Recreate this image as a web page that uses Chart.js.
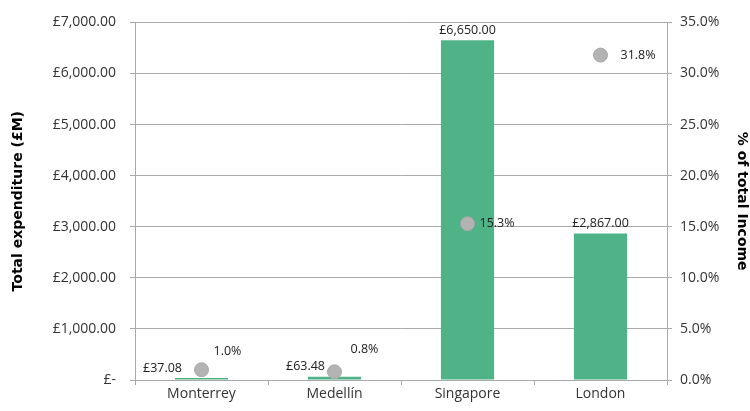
<!DOCTYPE html>
<html>
<head>
<meta charset="utf-8">
<script src="https://cdn.jsdelivr.net/npm/chart.js@4"></script>
<style>
  html, body { margin: 0; padding: 0; background: #fff; }
  #wrap { width: 750px; height: 411px; }
</style>
</head>
<body>
<div id="wrap"><canvas id="barChart"></canvas></div>
<script>
var cities = ["Monterrey", "Medellín", "Singapore", "London"];
var expenditure = [37.08, 63.48, 6650.00, 2867.00];
var incomeShare = [1.0, 0.8, 15.3, 31.8];

// label offsets (px) for each point: [dx, dy]
var barLabelOffset = [[-39, -7], [-29, -8], [0, -8], [0, -8]];
var pctLabelOffset = [[12, -18], [16, -22], [12, 0], [20, 0]];

function money(v) {
    if (v === 0) return "£-";
    return "£" + v.toLocaleString("en-GB", { minimumFractionDigits: 2, maximumFractionDigits: 2 });
}

var labelPlugin = {
    id: "labels",
    afterDatasetsDraw: function (chart) {
        var ctx = chart.ctx;
        ctx.save();
        ctx.font = "12.5px 'Open Sans'";
        ctx.fillStyle = "#222";
        ctx.textBaseline = "bottom";
        var bars = chart.getDatasetMeta(1).data;
        bars.forEach(function (el, i) {
            ctx.textAlign = "center";
            ctx.fillText(money(expenditure[i]), el.x + barLabelOffset[i][0], el.y + barLabelOffset[i][1] + 4);
        });
        var pts = chart.getDatasetMeta(0).data;
        ctx.textBaseline = "middle";
        pts.forEach(function (el, i) {
            ctx.textAlign = "left";
            ctx.fillText(incomeShare[i].toFixed(1) + "%", el.x + pctLabelOffset[i][0], el.y + pctLabelOffset[i][1]);
        });
        ctx.restore();
    }
};

var tickFont = { family: "Open Sans", size: 14 };
var titleFont = { family: "DejaVu Sans", size: 14, weight: "bold" };

var data = {
    labels: cities,
    datasets: [
        {
            type: "scatter",
            label: "% of total Income",
            data: incomeShare.map(function (v, i) { return { x: cities[i], y: v }; }),
            yAxisID: "y1",
            showLine: false,
            backgroundColor: "#b3b3b3",
            borderColor: "#a9a9a9",
            borderWidth: 1,
            pointRadius: 7,
            pointHoverRadius: 7
        },
        {
            type: "bar",
            label: "Total expenditure",
            data: expenditure,
            yAxisID: "y",
            backgroundColor: "#50b287",
            barPercentage: 0.4,
            categoryPercentage: 1.0
        }
    ]
};

var options = {
    responsive: true,
    maintainAspectRatio: false,
    animation: false,
    layout: { padding: { top: 17, left: 0, right: 0, bottom: 0 } },
    plugins: { legend: { display: false }, tooltip: { enabled: false } },
    scales: {
        x: {
            type: "category",
            offset: true,
            grid: { offset: true, drawOnChartArea: false, drawTicks: true, tickLength: 5, color: "#aaa" },
            border: { color: "#aaa" },
            ticks: { font: tickFont, color: "#333", padding: 1 },
            afterFit: function (s) { s.height = 31; }
        },
        y: {
            position: "left",
            min: 0, max: 7000,
            ticks: { stepSize: 1000, font: tickFont, color: "#333", padding: 14, callback: function (v) { return money(v); } },
            grid: { color: "#aaa", tickLength: 5 },
            border: { color: "#aaa" },
            title: { display: true, text: "Total expenditure (£M)", font: titleFont, color: "#000", padding: { top: 10, bottom: 0 } },
            afterFit: function (s) { s.width = 135; }
        },
        y1: {
            position: "right",
            min: 0, max: 35,
            ticks: { stepSize: 5, font: tickFont, color: "#333", padding: 8, callback: function (v) { return v.toFixed(1) + "%"; } },
            grid: { drawOnChartArea: false, color: "#aaa", tickLength: 5 },
            border: { color: "#aaa" },
            title: { display: true, text: "% of total Income", font: titleFont, color: "#000", padding: { top: 0, bottom: 2 } },
            afterFit: function (s) { s.width = 83; }
        }
    }
};

var ctx2 = document.getElementById("barChart").getContext("2d");
new Chart(ctx2, { type: "bar", data: data, options: options, plugins: [labelPlugin] });
</script>
</body>
</html>
